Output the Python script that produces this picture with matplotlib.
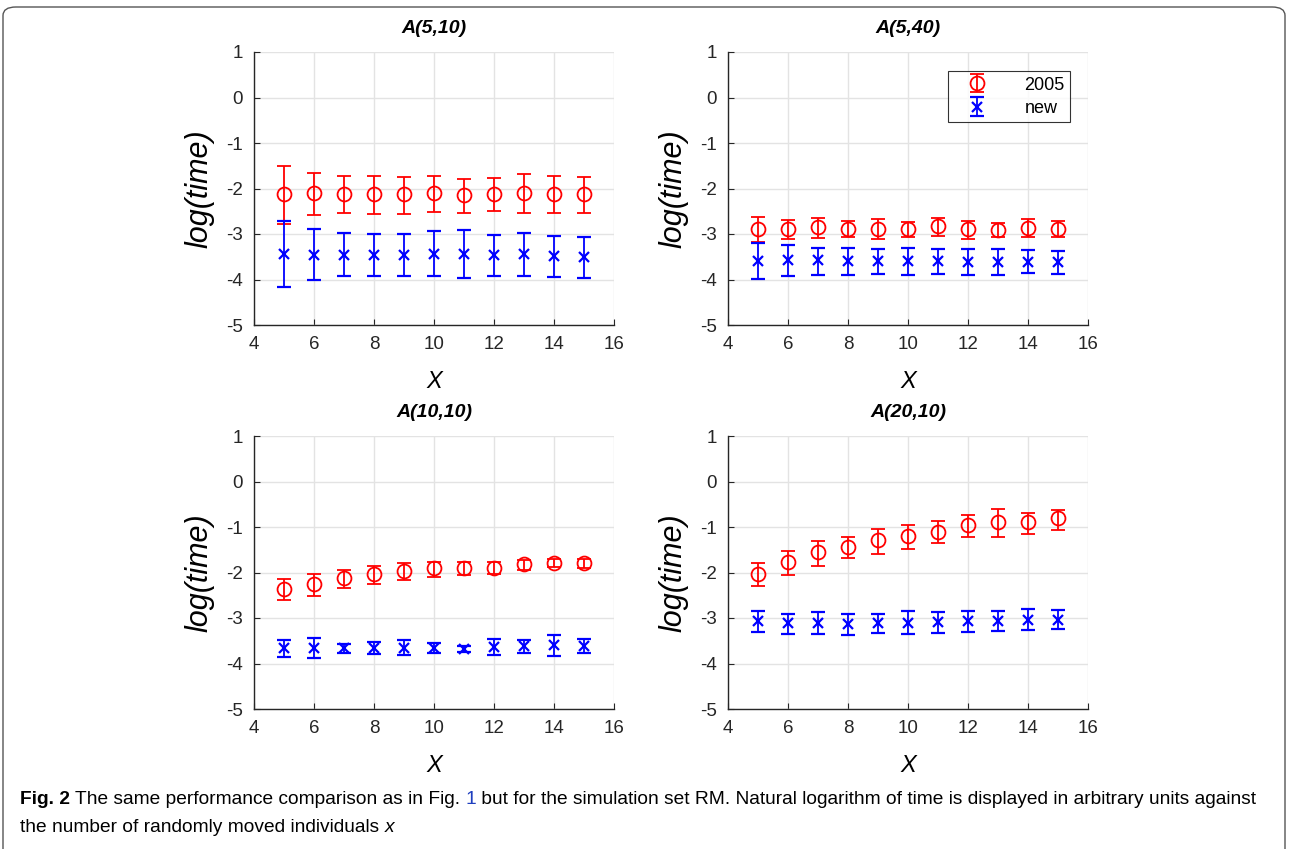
import matplotlib.pyplot as plt
import numpy as np
from matplotlib.patches import FancyBboxPatch

plt.rcParams['font.family'] = ['Liberation Sans', 'DejaVu Sans']
plt.rcParams['axes.unicode_minus'] = False

# data: mean, lower and upper end of each error bar
x = [5, 6, 7, 8, 9, 10, 11, 12, 13, 14, 15]
titles = ['A(5,10)', 'A(5,40)', 'A(10,10)', 'A(20,10)']

# A(5,10)
p1_old = [-2.11, -2.10, -2.11, -2.12, -2.12, -2.09, -2.15, -2.12, -2.09, -2.11, -2.11]
p1_old_lo = [-2.77, -2.58, -2.54, -2.55, -2.55, -2.51, -2.53, -2.49, -2.54, -2.53, -2.53]
p1_old_hi = [-1.50, -1.67, -1.72, -1.72, -1.74, -1.73, -1.80, -1.77, -1.69, -1.73, -1.74]
p1_new = [-3.45, -3.46, -3.46, -3.47, -3.46, -3.43, -3.45, -3.47, -3.45, -3.48, -3.50]
p1_new_lo = [-4.17, -4.01, -3.93, -3.93, -3.92, -3.92, -3.97, -3.93, -3.93, -3.94, -3.96]
p1_new_hi = [-2.71, -2.90, -2.97, -3.01, -3.00, -2.94, -2.92, -3.03, -2.98, -3.04, -3.06]

# A(5,40)
p2_old = [-2.88, -2.89, -2.85, -2.89, -2.88, -2.89, -2.83, -2.89, -2.91, -2.86, -2.88]
p2_old_lo = [-3.18, -3.12, -3.09, -3.07, -3.10, -3.07, -3.05, -3.10, -3.06, -3.07, -3.07]
p2_old_hi = [-2.62, -2.69, -2.64, -2.72, -2.66, -2.74, -2.64, -2.72, -2.76, -2.66, -2.71]
p2_new = [-3.60, -3.58, -3.58, -3.60, -3.60, -3.60, -3.60, -3.61, -3.61, -3.61, -3.62]
p2_new_lo = [-3.98, -3.92, -3.91, -3.90, -3.88, -3.90, -3.88, -3.90, -3.91, -3.86, -3.88]
p2_new_hi = [-3.19, -3.25, -3.30, -3.31, -3.32, -3.31, -3.34, -3.34, -3.32, -3.36, -3.37]

# A(10,10)
p3_old = [-2.36, -2.26, -2.13, -2.04, -1.97, -1.90, -1.90, -1.90, -1.81, -1.79, -1.80]
p3_old_lo = [-2.61, -2.52, -2.35, -2.26, -2.17, -2.10, -2.05, -2.04, -1.94, -1.88, -1.91]
p3_old_hi = [-2.15, -2.04, -1.95, -1.85, -1.80, -1.76, -1.77, -1.78, -1.72, -1.71, -1.71]
p3_new = [-3.66, -3.66, -3.67, -3.66, -3.66, -3.66, -3.68, -3.63, -3.62, -3.60, -3.62]
p3_new_lo = [-3.86, -3.88, -3.78, -3.80, -3.82, -3.78, -3.74, -3.81, -3.76, -3.83, -3.77]
p3_new_hi = [-3.48, -3.45, -3.57, -3.52, -3.49, -3.55, -3.61, -3.47, -3.48, -3.37, -3.47]

# A(20,10)
p4_old = [-2.04, -1.76, -1.56, -1.43, -1.29, -1.20, -1.10, -0.95, -0.90, -0.90, -0.81]
p4_old_lo = [-2.30, -2.06, -1.85, -1.69, -1.59, -1.49, -1.36, -1.21, -1.22, -1.16, -1.06]
p4_old_hi = [-1.79, -1.52, -1.31, -1.21, -1.04, -0.96, -0.86, -0.74, -0.61, -0.70, -0.62]
p4_new = [-3.07, -3.12, -3.11, -3.14, -3.12, -3.10, -3.08, -3.07, -3.07, -3.04, -3.04]
p4_new_lo = [-3.31, -3.35, -3.35, -3.37, -3.32, -3.35, -3.32, -3.31, -3.29, -3.26, -3.25]
p4_new_hi = [-2.84, -2.92, -2.87, -2.92, -2.91, -2.84, -2.86, -2.85, -2.85, -2.81, -2.82]

panels = [
    (p1_old, p1_old_lo, p1_old_hi, p1_new, p1_new_lo, p1_new_hi),
    (p2_old, p2_old_lo, p2_old_hi, p2_new, p2_new_lo, p2_new_hi),
    (p3_old, p3_old_lo, p3_old_hi, p3_new, p3_new_lo, p3_new_hi),
    (p4_old, p4_old_lo, p4_old_hi, p4_new, p4_new_lo, p4_new_hi),
]

W, H = 1289, 849
fig = plt.figure(figsize=(W / 100, H / 100), dpi=100)

# rounded frame around the whole figure (open at the bottom)
frame = FancyBboxPatch((3 / W, -0.05), 1282 / W, 1 - 7 / H + 0.05,
                       boxstyle='round,pad=0,rounding_size=0.01',
                       transform=fig.transFigure, fill=False,
                       edgecolor='#555555', linewidth=1.0)
fig.patches.append(frame)

# axes positions in pixels: left, top
lefts = [254, 728, 254, 728]
tops = [52, 52, 436, 436]
aw, ah = 360, 273

tick_col = '#262626'
for i, (old, old_lo, old_hi, new, new_lo, new_hi) in enumerate(panels):
    ax = fig.add_axes([lefts[i] / W, 1 - (tops[i] + ah) / H, aw / W, ah / H])
    old = np.array(old); new = np.array(new)
    e_old = [old - np.array(old_lo), np.array(old_hi) - old]
    e_new = [new - np.array(new_lo), np.array(new_hi) - new]
    ax.errorbar(x, old, yerr=e_old, fmt='o', color='red', mfc='none',
                ms=10, mew=1.3, elinewidth=1.3, capsize=5, capthick=1.3,
                label='2005', zorder=3)
    ax.errorbar(x, new, yerr=e_new, fmt='x', color='blue',
                ms=7, mew=1.6, elinewidth=1.3, capsize=5, capthick=1.3,
                label='new', zorder=3)
    ax.set_xlim(4, 16)
    ax.set_ylim(-5, 1)
    ax.set_xticks(range(4, 17, 2))
    ax.set_yticks(range(-5, 2))
    ax.grid(True, color='#e3e3e3', linewidth=1.0)
    ax.set_axisbelow(True)
    for s in ['top', 'right']:
        ax.spines[s].set_visible(False)
    for s in ['left', 'bottom']:
        ax.spines[s].set_color(tick_col)
        ax.spines[s].set_linewidth(1.0)
    ax.tick_params(direction='in', length=4, colors=tick_col, labelsize=13.5,
                   pad=8)
    ax.set_title(titles[i], fontsize=14, fontweight='bold', fontstyle='italic',
                 pad=14)
    ax.set_ylabel('log(time)', fontsize=22, fontstyle='italic', labelpad=8)
    ax.set_xlabel('X', fontsize=17, fontstyle='italic', labelpad=12)
    if i == 1:
        leg = ax.legend(loc='upper right', bbox_to_anchor=(0.95, 0.93),
                        borderaxespad=0, fontsize=13, frameon=True,
                        fancybox=False, edgecolor='black', borderpad=0.3,
                        handlelength=2.6, handletextpad=1.3,
                        labelspacing=0.35)
        leg.get_frame().set_linewidth(0.8)

# caption
cap_fam = ['Liberation Sans', 'DejaVu Sans']
fs = 13.8
y1, y2 = 1 - 800 / H, 1 - 827 / H
t1 = fig.text(20 / W, y1, 'Fig. 2 ', fontsize=fs, fontweight='bold',
              family=cap_fam, va='center')
fig.canvas.draw()
r = fig.canvas.get_renderer()
bb = t1.get_window_extent(r)
t_a = fig.text(bb.x1 / W, y1, 'The same performance comparison as in Fig. ',
               fontsize=fs, family=cap_fam, va='center')
bb = t_a.get_window_extent(r)
t_b = fig.text(bb.x1 / W, y1, '1', fontsize=fs, family=cap_fam,
               va='center', color='#1f3fbf')
bb = t_b.get_window_extent(r)
fig.text(bb.x1 / W, y1,
         ' but for the simulation set RM. Natural logarithm of time is displayed in arbitrary units against',
         fontsize=fs, family=cap_fam, va='center')
t_c = fig.text(20 / W, y2, 'the number of randomly moved individuals ',
               fontsize=fs, family=cap_fam, va='center')
bb = t_c.get_window_extent(r)
fig.text(bb.x1 / W, y2, 'x', fontsize=fs, family=cap_fam,
         va='center', fontstyle='italic')

fig.savefig('out.png', dpi=100)
